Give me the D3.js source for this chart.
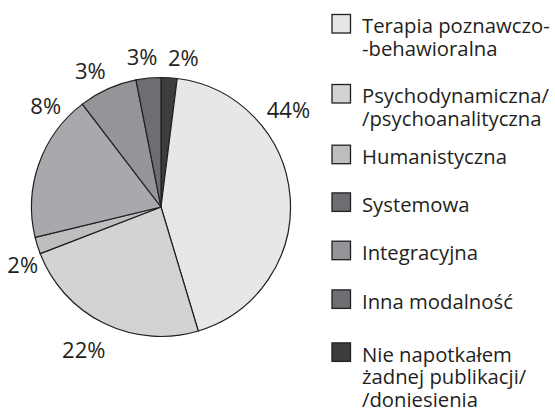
<!DOCTYPE html>
<html>
<head>
<meta charset="utf-8">
<script src="https://cdn.jsdelivr.net/npm/d3@7"></script>
<style>
  html, body { margin: 0; padding: 0; background: #fff; }
  svg { display: block; }
  text { font-family: "Open Sans", sans-serif; fill: #231f20; }
</style>
</head>
<body>
<svg id="chart" width="555" height="416"></svg>
<script>
// ---- data (slices in drawing order, clockwise from 12 o'clock) ----
const sliceNames  = ["Nie napotkałem", "Terapia poznawczo-behawioralna", "Psychodynamiczna/psychoanalityczna",
                     "Humanistyczna", "Integracyjna (duży)", "Integracyjna", "Systemowa"];
const sliceValues = [2.0, 43.4, 23.8, 2.1, 18.4, 7.3, 3.1];
const sliceColors = ["#3d3d3f", "#e6e7e8", "#d1d3d4", "#bcbec0", "#a7a9ac", "#939598", "#6d6e71"];
const sliceLabels = ["2%", "44%", "22%", "2%", "8%", "3%", "3%"];

// ---- legend ----
const legendLines  = [["Terapia poznawczo-", "-behawioralna"],
                      ["Psychodynamiczna/", "/psychoanalityczna"],
                      ["Humanistyczna"],
                      ["Systemowa"],
                      ["Integracyjna"],
                      ["Inna modalność"],
                      ["Nie napotkałem", "żadnej publikacji/", "/doniesienia"]];
const legendColors = ["#e6e7e8", "#d1d3d4", "#bcbec0", "#6d6e71", "#939598", "#6d6e71", "#3d3d3f"];

// ---- layout ----
const cx = 161, cy = 207, R = 129.5;
const labelAngleDeg = [8.5, 52.8, 208.3, 247.2, 311.1, 332.6, 352.8];
const labelRadius   = [151, 160, 163, 150, 153, 153.5, 150.7];
const legendBaseline = [33.3, 103.3, 164, 211.7, 260, 308.7, 361.7];
const legendLineH = 22.7;

const svg = d3.select("#chart");
const g = svg.append("g").attr("transform", `translate(${cx},${cy})`);

const pie = d3.pie().sort(null).value(d => d)(sliceValues);
const arc = d3.arc().innerRadius(0).outerRadius(R);

g.selectAll("path.slice").data(pie).join("path")
  .attr("class", "slice")
  .attr("d", arc)
  .attr("fill", (d, i) => sliceColors[i])
  .attr("stroke", "#231f20")
  .attr("stroke-width", 1.2)
  .attr("stroke-linejoin", "round");

g.selectAll("text.lbl").data(sliceLabels).join("text")
  .attr("class", "lbl")
  .attr("x", (d, i) => labelRadius[i] * Math.sin(labelAngleDeg[i] * Math.PI / 180))
  .attr("y", (d, i) => -labelRadius[i] * Math.cos(labelAngleDeg[i] * Math.PI / 180))
  .attr("text-anchor", "middle")
  .attr("dy", "0.36em")
  .style("font-size", "22px")
  .text(d => d);

const lg = svg.append("g");
legendLines.forEach((lines, i) => {
  const b = legendBaseline[i];
  lg.append("rect")
    .attr("x", 332).attr("y", b - 18.8)
    .attr("width", 18.5).attr("height", 18.5)
    .attr("fill", legendColors[i])
    .attr("stroke", "#231f20").attr("stroke-width", 1.3);
  lines.forEach((ln, j) => {
    lg.append("text").attr("x", 362).attr("y", b + j * legendLineH)
      .style("font-size", "20.3px").text(ln);
  });
});
</script>
</body>
</html>
